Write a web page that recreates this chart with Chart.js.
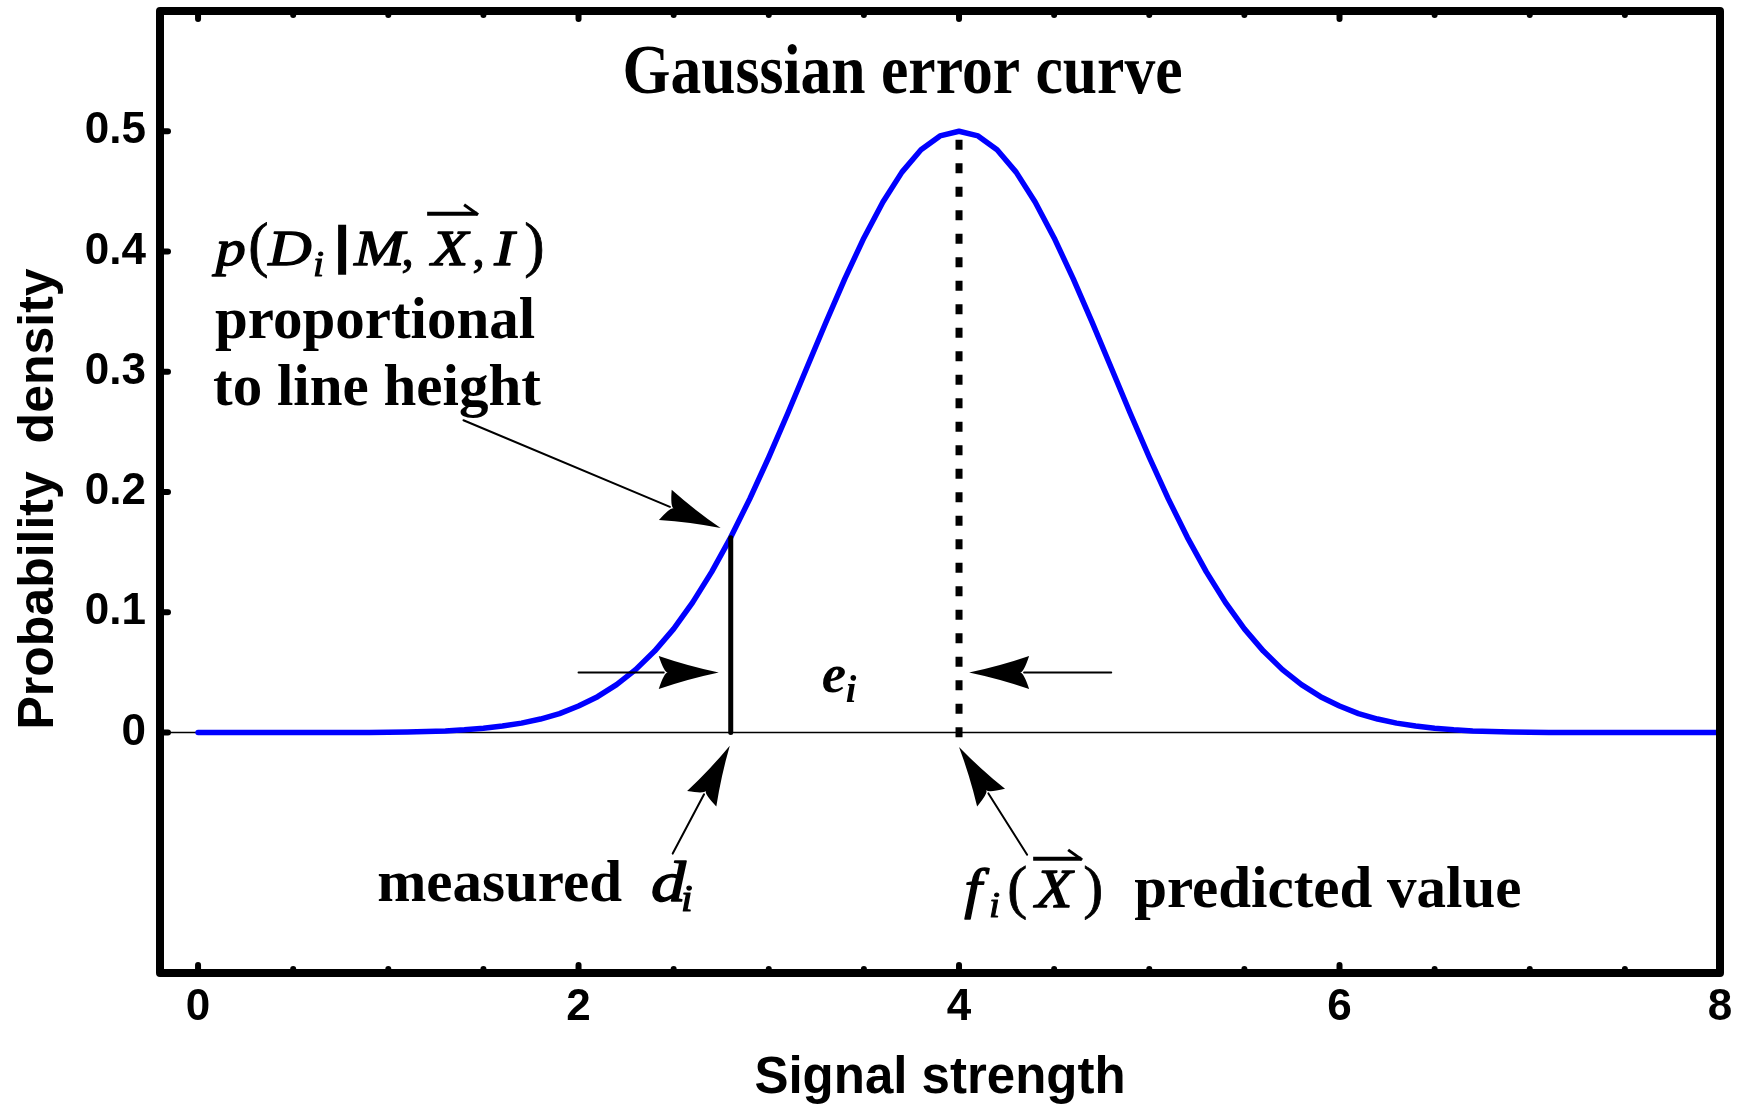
<!DOCTYPE html>
<html><head><meta charset="utf-8">
<script src="https://cdn.jsdelivr.net/npm/chart.js@4.4.1/dist/chart.umd.min.js"></script>
<style>html,body{margin:0;padding:0;background:#fff;}canvas{display:block;}</style>
</head><body>
<canvas id="c" width="1740" height="1110"></canvas>
<script>
// ---------- data ----------
const signalX = [0.0,0.1,0.2,0.3,0.4,0.5,0.6,0.7,0.8,0.9,
  1.0,1.1,1.2,1.3,1.4,1.5,1.6,1.7,1.8,1.9,
  2.0,2.1,2.2,2.3,2.4,2.5,2.6,2.7,2.8,2.9,
  3.0,3.1,3.2,3.3,3.4,3.5,3.6,3.7,3.8,3.9,
  4.0,4.1,4.2,4.3,4.4,4.5,4.6,4.7,4.8,4.9,
  5.0,5.1,5.2,5.3,5.4,5.5,5.6,5.7,5.8,5.9,
  6.0,6.1,6.2,6.3,6.4,6.5,6.6,6.7,6.8,6.9,
  7.0,7.1,7.2,7.3,7.4,7.5,7.6,7.7,7.8,7.9,8.0];
const density = [0,0,0,0,0,0,0,0,0,0,
  0.0002,0.0004,0.0008,0.0013,0.0022,0.0035,0.0054,0.0078,0.0112,0.0157,
  0.0220,0.0298,0.0398,0.0523,0.0677,0.0862,0.1082,0.1336,0.1623,0.1943,
  0.2289,0.2655,0.3033,0.3410,0.3774,0.4113,0.4412,0.4660,0.4846,0.4961,
  0.5000,0.4961,0.4846,0.4660,0.4412,0.4113,0.3774,0.3410,0.3033,0.2655,
  0.2289,0.1943,0.1623,0.1336,0.1082,0.0862,0.0677,0.0523,0.0398,0.0298,
  0.0220,0.0157,0.0112,0.0078,0.0054,0.0035,0.0022,0.0013,0.0008,0.0004,
  0.0002,0,0,0,0,0,0,0,0,0,0];
const measuredValue = 2.8;
const measuredDensity = 0.162;
const predictedValue = 4.0;
const predictedDensity = 0.5;
const xTickValues = [0,0.5,1,1.5,2,2.5,3,3.5,4,4.5,5,5.5,6,6.5,7,7.5,8];
const xLabelValues = [0,2,4,6,8];
const xTickLabels = ['0','2','4','6','8'];
const yTickValues = [0,0.1,0.2,0.3,0.4,0.5];
const yTickLabels = ['0','0.1','0.2','0.3','0.4','0.5'];
const xAxisTitle = 'Signal strength';
const yAxisTitle = 'Probability  density ';
const chartTitle = 'Gaussian error curve';

// ---------- annotation layout (data coordinates + glyph offsets in px) ----------
const SERIF = '"Liberation Serif", "Times New Roman", serif';
const SANS = '"Liberation Sans", Arial, sans-serif';
const arrowSegs = [
  [1.395, 0.2597, 2.747, 0.170],
  [2.0, 0.05, 2.737, 0.05],
  [4.8, 0.05, 4.053, 0.05],
  [2.495, -0.1007, 2.795, -0.011],
  [4.358, -0.1016, 4.0, -0.012]
];
// part: [text, font, dx, dy, xStretch, strokeWidth]
const textBlocks = [
  {at:[0.074, 0.389], parts:[
    ['p','italic 51px',0,0,1.18,1.3],['(','61px',38,0,1,0.8],['D','italic 51px',55,0,1.18,1.3],['i','italic 36px',103,11,1.1,1],
    ['M','italic 51px',141,0,1.18,1.3],[',','51px',190,0,1,1],['X','italic 51px',217,0,1.18,1.3],[',','51px',261,0,1,1],
    ['I','italic 51px',281,0,1.18,1.3],[')','61px',313,0,1,0.8]],
    bar:[126,8,-40,10], vec:[215,265,-51]},
  {at:[0.089, 0.328], parts:[['proportional','bold 59px',0,0,1,0]]},
  {at:[0.079, 0.272], parts:[['to line height','bold 59px',0,0,1,0]]},
  {at:[3.284, 0.0334], parts:[['e','bold italic 55px',0,0,1,0],['i','bold italic 38px',23,10,1,0]]},
  {at:[0.947, -0.140], parts:[['measured','bold 59px',0,0,1,0],['d','italic 58px',274,0,1.2,1.5],['i','italic 38px',305,10,1.1,1.2]]},
  {at:[4.027, -0.145], parts:[['f','italic 55px',0,0,1.15,1.3],['i','italic 36px',27,10,1.1,1],['(','60px',45,0,1,0.8],
    ['X','italic 54px',69,0,1.12,1.3],[')','60px',120,0,1,0.8],['predicted value','bold 59px',170,0,1,0]], vec:[69,117,-48]}
];
const titleAt = [3.703, 0.532];

function glyph(ctx, text, font, inkLeft, baseline, sx, sw){
  ctx.font = font + ' ' + SERIF;
  const m = ctx.measureText(text);
  ctx.save();
  ctx.translate(inkLeft, baseline);
  ctx.scale(sx, 1);
  ctx.fillText(text, m.actualBoundingBoxLeft, 0);
  if (sw > 0) { ctx.lineWidth = sw; ctx.lineJoin = 'round'; ctx.strokeText(text, m.actualBoundingBoxLeft, 0); }
  ctx.restore();
}
function vecArrow(ctx, x0, x1, y){
  ctx.save();
  ctx.lineWidth = 4; ctx.lineCap = 'butt';
  ctx.beginPath(); ctx.moveTo(x0, y); ctx.lineTo(x1, y); ctx.stroke();
  ctx.lineWidth = 3;
  ctx.beginPath(); ctx.moveTo(x1 + 1, y + 1); ctx.lineTo(x1 - 13, y - 9); ctx.stroke();
  ctx.restore();
}
function drawArrow(ctx, x0, y0, x1, y1){
  const ang = Math.atan2(y1 - y0, x1 - x0);
  const ux = Math.cos(ang), uy = Math.sin(ang), nx = -uy, ny = ux;
  const L = 60, W = 16.5, N = 9;
  ctx.save();
  ctx.lineWidth = 2; ctx.strokeStyle = '#000'; ctx.fillStyle = '#000';
  ctx.beginPath(); ctx.moveTo(x0, y0); ctx.lineTo(x1 - (L - 5) * ux, y1 - (L - 5) * uy); ctx.stroke();
  const bx = x1 - L * ux, by = y1 - L * uy;
  const c1x = bx + W * nx, c1y = by + W * ny, c2x = bx - W * nx, c2y = by - W * ny;
  const mx1 = (x1 + c1x) / 2 - 2 * nx, my1 = (y1 + c1y) / 2 - 2 * ny;
  const mx2 = (x1 + c2x) / 2 + 2 * nx, my2 = (y1 + c2y) / 2 + 2 * ny;
  ctx.beginPath();
  ctx.moveTo(x1, y1);
  ctx.quadraticCurveTo(mx1, my1, c1x, c1y);
  ctx.quadraticCurveTo(bx + (N * 0.6) * ux, by + (N * 0.6) * uy, x1 - (L - N) * ux, y1 - (L - N) * uy);
  ctx.quadraticCurveTo(bx + (N * 0.6) * ux, by + (N * 0.6) * uy, c2x, c2y);
  ctx.quadraticCurveTo(mx2, my2, x1, y1);
  ctx.closePath(); ctx.fill();
  ctx.restore();
}

const annotPlugin = {
  id: 'annot',
  afterDraw(chart){
    const ctx = chart.ctx, a = chart.chartArea;
    const xs = chart.scales.x, ys = chart.scales.y;
    const px = v => xs.getPixelForValue(v), py = v => ys.getPixelForValue(v);
    ctx.save();
    ctx.strokeStyle = '#000'; ctx.fillStyle = '#000';
    // frame
    ctx.lineWidth = 8; ctx.lineJoin = 'round';
    ctx.strokeRect(a.left, a.top, a.right - a.left, a.bottom - a.top);
    // inward ticks
    ctx.lineWidth = 6; ctx.lineCap = 'round';
    xTickValues.forEach(v => {
      if (v >= 8) return;
      const x = px(v), len = xLabelValues.includes(v) ? 8 : 4;
      ctx.beginPath(); ctx.moveTo(x, a.bottom); ctx.lineTo(x, a.bottom - len); ctx.stroke();
      ctx.beginPath(); ctx.moveTo(x, a.top); ctx.lineTo(x, a.top + len); ctx.stroke();
    });
    yTickValues.forEach(v => {
      const y = py(v);
      ctx.beginPath(); ctx.moveTo(a.left, y); ctx.lineTo(a.left + 8, y); ctx.stroke();
    });
    // arrows
    arrowSegs.forEach(s => drawArrow(ctx, px(s[0]), py(s[1]), px(s[2]), py(s[3])));
    // texts
    ctx.textAlign = 'left'; ctx.textBaseline = 'alphabetic';
    textBlocks.forEach(b => {
      const ax = px(b.at[0]), ay = py(b.at[1]);
      b.parts.forEach(p => glyph(ctx, p[0], p[1], ax + p[2], ay + p[3], p[4], p[5]));
      if (b.bar) ctx.fillRect(ax + b.bar[0], ay + b.bar[2], b.bar[1], b.bar[3] - b.bar[2]);
      if (b.vec) vecArrow(ctx, ax + b.vec[0], ax + b.vec[1], ay + b.vec[2]);
    });
    // title
    ctx.save();
    ctx.translate(px(titleAt[0]), py(titleAt[1]));
    ctx.scale(0.88, 1);
    ctx.font = 'bold 70px ' + SERIF;
    ctx.textAlign = 'center';
    ctx.fillText(chartTitle, 0, 0);
    ctx.restore();
    ctx.restore();
  }
};

const curvePts = signalX.map((x, i) => ({x: x, y: density[i]}));
new Chart(document.getElementById('c'), {
  type: 'scatter',
  data: { datasets: [
    { data: [{x: measuredValue, y: 0}, {x: measuredValue, y: measuredDensity}], showLine: true,
      borderColor: '#000', borderWidth: 5, borderCapStyle: 'round', pointRadius: 0 },
    { data: [{x: predictedValue, y: -0.004}, {x: predictedValue, y: predictedDensity}], showLine: true,
      borderColor: '#000', borderWidth: 7, borderDash: [10, 13.5], borderCapStyle: 'butt', pointRadius: 0 },
    { data: curvePts, showLine: true, borderColor: '#0000ff', borderWidth: 5.5,
      borderJoinStyle: 'round', borderCapStyle: 'round', pointRadius: 0, tension: 0 },
    { data: [{x: -0.2, y: 0}, {x: 8, y: 0}], showLine: true, borderColor: '#000', borderWidth: 1.5, pointRadius: 0 }
  ]},
  options: {
    responsive: false, animation: false, devicePixelRatio: 1,
    layout: { padding: { left: 0, top: 11, right: 20, bottom: 0 } },
    plugins: { legend: { display: false }, tooltip: { enabled: false } },
    scales: {
      x: { type: 'linear', min: -0.2, max: 8, position: 'bottom',
        afterBuildTicks: s => { s.ticks = xTickValues.map(v => ({value: v})); },
        afterFit: s => { s.height = 137; s.paddingLeft = 0; s.paddingRight = 0; },
        grid: { display: false, drawTicks: false }, border: { display: false },
        ticks: { autoSkip: false, maxRotation: 0, minRotation: 0, padding: 8, color: '#000',
          font: { family: SANS, size: 44, weight: 'bold' },
          callback: v => { const i = xLabelValues.indexOf(v); return i >= 0 ? xTickLabels[i] : ''; } },
        title: { display: true, text: xAxisTitle, color: '#000',
          font: { family: SANS, size: 51, weight: 'bold' }, padding: { top: 0, bottom: 0 } }
      },
      y: { type: 'linear', min: -0.2, max: 0.6, position: 'left',
        afterBuildTicks: s => { s.ticks = yTickValues.map(v => ({value: v})); },
        afterFit: s => { s.width = 160; s.paddingTop = 0; s.paddingBottom = 0; },
        grid: { display: false, drawTicks: false }, border: { display: false },
        ticks: { autoSkip: false, padding: 14, color: '#000',
          font: { family: SANS, size: 44, weight: 'bold' },
          callback: v => { const i = yTickValues.indexOf(v); return i >= 0 ? yTickLabels[i] : ''; } },
        title: { display: true, text: yAxisTitle, color: '#000',
          font: { family: SANS, size: 50, weight: 'bold' }, padding: { top: 9, bottom: 0 } }
      }
    }
  },
  plugins: [annotPlugin]
});
</script>
</body></html>
